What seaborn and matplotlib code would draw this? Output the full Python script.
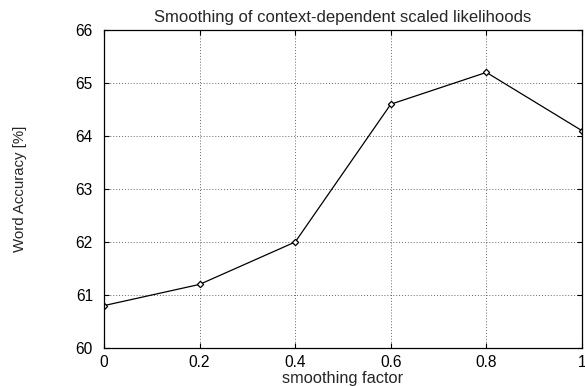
import matplotlib
matplotlib.use("Agg")
import matplotlib.pyplot as plt
import seaborn as sns
import pandas as pd

smoothing = [0.0, 0.2, 0.4, 0.6, 0.8, 1.0]
accuracy = [60.8, 61.2, 62.0, 64.6, 65.2, 64.1]
xticks = [0, 0.2, 0.4, 0.6, 0.8, 1]
xticklabels = ["0", "0.2", "0.4", "0.6", "0.8", "1"]
yticks = [60, 61, 62, 63, 64, 65, 66]

sns.set_style("white")
plt.rcParams['font.family'] = ['Liberation Sans', 'DejaVu Sans']

df = pd.DataFrame({"x": smoothing, "y": accuracy})
fig = plt.figure(figsize=(5.85, 3.86), dpi=100)
ax = fig.add_axes([104 / 585, 38 / 386, 478 / 585, 318 / 386])
sns.lineplot(data=df, x="x", y="y", ax=ax, color="black", linewidth=0.9,
             marker="D", markersize=3.2, markerfacecolor="white",
             markeredgecolor="black", markeredgewidth=0.9)
ax.set_xlim(0, 1)
ax.set_ylim(60, 66)
ax.set_xticks(xticks)
ax.set_xticklabels(xticklabels)
ax.set_yticks(yticks)
ax.grid(True, color="#666666", linestyle=(0, (1, 2)), linewidth=0.7)
ax.tick_params(direction="in", length=3.5, width=0.8, labelsize=11.2, colors="black",
               top=True, right=True, bottom=True, left=True, pad=5)
ax.tick_params(axis="y", pad=8)
for s in ax.spines.values():
    s.set_color("black")
    s.set_linewidth(0.9)
ax.set_xlabel("smoothing factor", fontsize=11.8, va="center")
ax.xaxis.set_label_coords(0.5, (348 - 379) / 318)
ax.set_ylabel("Word Accuracy [%]", fontsize=10.8, va="center")
ax.yaxis.set_label_coords((20 - 104) / 478, 0.5 - 0 / 318)
ax.set_title("Smoothing of context-dependent scaled likelihoods",
             fontsize=12, pad=6)
fig.savefig("out.png", dpi=100)
